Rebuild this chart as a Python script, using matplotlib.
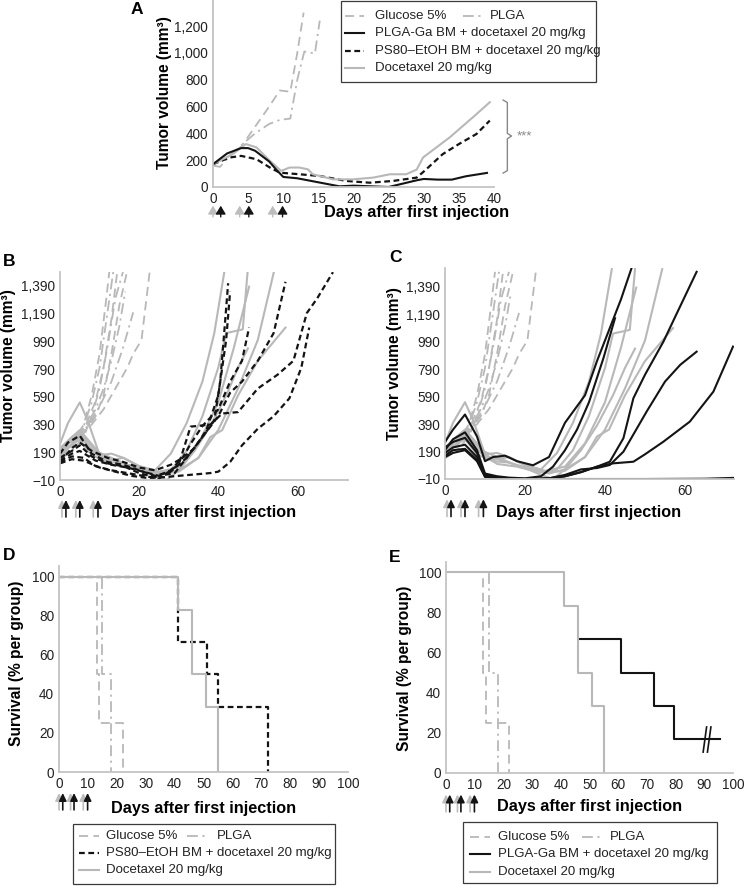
import matplotlib
matplotlib.use("Agg")
import matplotlib.pyplot as plt
from matplotlib.lines import Line2D
from matplotlib.patches import Rectangle

plt.rcParams["font.family"] = ["Liberation Sans", "DejaVu Sans"]

W, H = 745, 886
GREY = "#b8b8b8"
BLACK = "#141414"
AXGREY = "#c4c4c4"

# ---------------- panel A: group means ----------------
a_glu_day = [0, 2, 4, 6, 8, 9.5, 11, 12, 12.9]
a_glu = [170, 220, 300, 450, 600, 720, 710, 1000, 1300]
a_plga_day = [0, 1, 2, 4, 6, 8, 9.5, 11, 12, 13, 14.5, 15.2]
a_plga = [160, 150, 210, 310, 400, 470, 500, 510, 800, 1010, 995, 1240]
a_ga_day = [0, 2, 4, 5, 6, 8, 9, 10, 12, 15, 18, 20, 25, 27, 29, 30, 32, 34, 36, 39]
a_ga = [170, 250, 290, 290, 270, 190, 130, 75, 65, 35, 5, 10, 0, 25, 50, 60, 55, 55, 80, 105]
a_ps80_day = [0, 2.4, 4, 6.2, 8.1, 9.5, 12.3, 15.2, 19, 22.3, 25.6, 29, 30.1, 32.7, 35, 37.5, 39.4]
a_ps80 = [170, 220, 232, 207, 145, 107, 95, 82, 45, 32, 45, 70, 120, 245, 320, 395, 495]
a_doc_day = [0, 2.8, 4.7, 6.2, 8.1, 9.7, 10.9, 12.3, 13.5, 14.2, 17.1, 19.9, 22.8, 25.2,
             27.5, 29, 29.9, 33.7, 37, 39.4]
a_doc = [170, 245, 320, 295, 195, 120, 145, 145, 132, 95, 57, 57, 70, 95, 95, 130, 220,
         370, 520, 632]

# ---------------- panels B/C: individual animals ----------------
glucose_curves = [
    ([0, 3, 6, 8, 10, 11.5, 12.5], [170, 250, 390, 600, 900, 1250, 1500]),
    ([0, 3, 6, 9, 11, 13, 14.5], [150, 230, 350, 560, 800, 1150, 1500]),
    ([0, 3, 6, 9, 11, 13, 15, 17], [190, 270, 330, 450, 600, 900, 1250, 1500]),
    ([0, 3, 6, 8, 11, 14, 17, 18.5, 20.6, 22.7], [160, 240, 330, 390, 500, 650, 800, 900, 1000, 1500]),
]
plga_curves = [
    ([0, 3, 6, 8, 10, 12, 13.5], [180, 260, 380, 550, 800, 1200, 1500]),
    ([0, 3, 6, 8, 10, 12, 14, 16], [140, 200, 300, 450, 650, 950, 1300, 1500]),
    ([0, 4, 7, 9, 11, 13, 15, 16.5], [200, 300, 400, 500, 650, 850, 1100, 1350]),
    ([0, 4, 7, 10, 13, 16, 18.5], [170, 280, 380, 520, 700, 950, 1200]),
]
doc_curves = [
    ([0, 2, 5, 7, 10, 13, 16, 20, 24, 28, 32, 36, 39, 41.7],
     [250, 400, 550, 420, 170, 180, 150, 90, 60, 180, 400, 700, 1050, 1520]),
    ([0, 3, 5, 8, 11, 15, 20, 24, 28, 32, 36, 40, 42, 46.2, 47.5],
     [200, 300, 350, 250, 150, 120, 70, 40, 60, 200, 450, 800, 1050, 1077, 1520]),
    ([0, 3, 5, 8, 12, 16, 20, 25, 30, 35, 40, 44, 47.8],
     [180, 280, 320, 200, 130, 150, 90, 50, 80, 250, 550, 950, 1385]),
    ([0, 3, 5, 9, 13, 18, 22, 26, 30, 35, 40, 45, 50, 54.3],
     [150, 250, 300, 180, 100, 80, 50, 30, 60, 150, 350, 650, 1000, 1520]),
    ([0, 3, 5, 9, 13, 17, 22, 26, 30, 35, 38, 41, 45, 50, 57],
     [220, 300, 330, 200, 150, 100, 60, 40, 50, 150, 300, 350, 600, 850, 1090]),
    ([0, 2, 5, 8, 12, 16, 20, 24, 27, 30, 34, 38, 42, 45, 47.5],
     [170, 230, 280, 170, 120, 110, 70, 20, -10, 60, 200, 380, 600, 800, 940]),
]
ps80_curves = [
    ([0, 2, 5, 8, 12, 16, 20, 24, 28, 32, 36, 39, 40.5, 41.5, 42.5],
     [180, 260, 310, 180, 120, 100, 60, 20, 50, 150, 300, 420, 700, 1050, 1410]),
    ([0, 3, 5, 8, 12, 16, 20, 24, 28, 31, 34, 37, 40, 42, 43],
     [120, 220, 260, 200, 150, 120, 80, 60, 100, 150, 220, 350, 600, 1000, 1350]),
    ([0, 3, 5, 8, 12, 16, 20, 24, 28, 31, 33, 36, 40, 43, 46, 47.8],
     [150, 200, 240, 160, 110, 90, 40, 10, 60, 150, 250, 380, 500, 700, 850, 1090]),
    ([0, 3, 5, 9, 13, 17, 21, 25, 29, 32, 36, 40, 43, 46, 50, 54, 57],
     [130, 180, 200, 130, 100, 80, 50, 20, 40, 150, 300, 450, 620, 700, 850, 1050, 1420]),
    ([0, 3, 6, 9, 13, 17, 21, 25, 30, 33, 38, 41, 45, 50, 55, 59, 62.4, 65, 69],
     [120, 160, 150, 90, 60, 40, 20, 0, 100, 375, 390, 470, 480, 650, 750, 850, 1195, 1300, 1490]),
    ([0, 3, 6, 10, 14, 18, 22, 26, 30, 34, 38, 40, 43, 46, 50, 54, 58, 61, 63],
     [110, 140, 130, 80, 50, 20, 5, 10, 20, 30, 40, 50, 120, 240, 360, 450, 580, 800, 1090]),
]
ga_curves = [
    ([0, 2, 5, 8, 10, 12, 15, 18, 22, 26, 30, 35, 38, 42, 44, 46.9],
     [260, 350, 460, 300, 120, 150, 160, 120, 90, 150, 400, 600, 850, 1150, 1300, 1550]),
    ([0, 2, 5, 8, 10, 13, 16, 20, 24, 27, 30, 33, 36, 39.6, 42.5],
     [200, 280, 330, 200, 30, 10, 0, -5, 10, 80, 200, 350, 550, 870, 1162]),
    ([0, 2, 5, 8, 10, 14, 18, 22, 26, 30, 34, 38, 41.2, 44.6, 47.1, 50, 54.6, 58, 62.9],
     [220, 260, 290, 180, 20, 0, -10, -10, -5, 10, 40, 80, 116, 287, 579, 750, 991, 1200, 1500]),
    ([0, 2, 5, 8, 10, 14, 18, 22, 26, 30, 34, 38, 41.2, 44.6, 50.4, 55, 58.8, 62.9],
     [180, 220, 240, 150, 10, -5, -10, -10, -5, 20, 60, 70, 92, 189, 481, 700, 822, 918]),
    ([0, 2, 5, 8, 10, 14, 18, 22, 26, 30, 34, 38, 42, 47.1, 50, 54.6, 61.2, 67.1, 72],
     [160, 200, 210, 130, 10, -5, -10, -10, -5, 10, 40, 80, 104, 116, 170, 262, 408, 627, 955]),
    ([0, 2, 5, 8, 10, 14, 18, 25, 35, 50, 65, 72],
     [150, 180, 200, 120, 5, -5, -10, -10, -10, -10, -8, -2]),
]

# ---------------- panels D/E: survival ----------------
surv_glu_day = [0, 13, 13.8, 22]
surv_glu = [100, 50, 25, 0]
surv_plga_day = [0, 15, 18]
surv_plga = [100, 50, 0]
surv_doc_day = [0, 41.2, 46, 51, 55]
surv_doc = [100, 83.3, 50, 33.3, 0]
surv_ps80_day = [0, 41.2, 51.2, 55, 72.3]
surv_ps80 = [100, 66.7, 50, 33.3, 0]
surv_ga_day = [46.2, 61.1, 72.4, 79.4, 95.4]
surv_ga = [66.7, 50, 33.3, 16.7, 16.7]

# injection days (grey arrow / black arrow)
inj_grey = [0, 4, 8.4]
inj_black = [1.3, 5.2, 9.9]

vol_ticks_bc = [-10, 190, 390, 590, 790, 990, 1190, 1390]
vol_labels_bc = ["\u221210", "190", "390", "590", "790", "990", "1,190", "1,390"]
vol_ticks_a = [0, 200, 400, 600, 800, 1000, 1200]
vol_labels_a = ["0", "200", "400", "600", "800", "1,000", "1,200"]

LEGEND_LABELS = {
    "glu": "Glucose 5%",
    "plga": "PLGA",
    "ga": "PLGA-Ga BM + docetaxel 20 mg/kg",
    "ps80": "PS80\u2013EtOH BM + docetaxel 20 mg/kg",
    "doc": "Docetaxel 20 mg/kg",
}

STY = {
    "glu": dict(color=GREY, ls=(0, (5, 3)), lw=1.3),
    "plga": dict(color=GREY, ls=(0, (6, 2.5, 1.2, 2.5)), lw=1.3),
    "ga": dict(color=BLACK, ls="-", lw=1.5),
    "ps80": dict(color=BLACK, ls=(0, (2.6, 1.6)), lw=1.6),
    "doc": dict(color=GREY, ls="-", lw=1.5),
}


def fx(px):
    return px / W


def fy(py):
    return 1 - py / H


def add_ax(x0, y0, x1, y1):
    # pixel box (top-left origin) -> figure axes
    return fig.add_axes([fx(x0), fy(y1), fx(x1) - fx(x0), fy(y0) - fy(y1)])


def style_ax(ax, xlim, ylim, xticks, yticks, ylabels=None):
    ax.set_xlim(*xlim)
    ax.set_ylim(*ylim)
    ax.set_xticks(xticks)
    ax.set_yticks(yticks)
    if ylabels is not None:
        ax.set_yticklabels(ylabels)
    for s in ["top", "right"]:
        ax.spines[s].set_visible(False)
    for s in ["left", "bottom"]:
        ax.spines[s].set_color(AXGREY)
        ax.spines[s].set_linewidth(1.3)
    ax.tick_params(length=0, pad=3.5, labelsize=9.8, colors="#222222")


def arrows(ax, ytop, ybot, grey_days, black_days, lw=1.2, hl=0.45, hw=0.22):
    for days, col in [(grey_days, "#bdbdbd"), (black_days, BLACK)]:
        for d in days:
            ax.annotate("", xy=(d, ytop), xytext=(d, ybot),
                        xycoords=("data", "axes fraction"),
                        textcoords=("data", "axes fraction"),
                        annotation_clip=False,
                        arrowprops=dict(arrowstyle="-|>,head_length=%s,head_width=%s" % (hl, hw),
                                        color=col, lw=lw, shrinkA=0, shrinkB=0))


def legend_box(box, rows, fs=9.5):
    x0, y0, x1, y1 = box
    fig.add_artist(Rectangle((fx(x0), fy(y1)), fx(x1) - fx(x0), fy(y0) - fy(y1),
                             transform=fig.transFigure, fill=False,
                             edgecolor="#3a3a3a", lw=0.9))
    for y, items in rows:
        for hx0, hx1, tx, key in items:
            st = dict(STY[key])
            fig.add_artist(Line2D([fx(hx0), fx(hx1)], [fy(y), fy(y)],
                                  transform=fig.transFigure, **st))
            fig.text(fx(tx), fy(y), LEGEND_LABELS[key], fontsize=fs,
                     ha="left", va="center", color="#222222")


def labels(xl_pos, yl_pos, ylab, letter_pos, letter):
    fig.text(fx(xl_pos[0]), fy(xl_pos[1]), "Days after first injection",
             fontsize=11.7, fontweight="bold", ha="center", va="center")
    fig.text(fx(yl_pos[0]), fy(yl_pos[1]), ylab, fontsize=11.2,
             fontweight="bold", rotation=90, ha="center", va="center")
    fig.text(fx(letter_pos[0]), fy(letter_pos[1]), letter, fontsize=12.5,
             fontweight="bold", ha="center", va="center")


fig = plt.figure(figsize=(W / 100, H / 100), dpi=100)

# ---- A ----
axA = add_ax(213, 0, 494, 187)
style_ax(axA, (0, 40), (0, 1394), list(range(0, 41, 5)), vol_ticks_a, vol_labels_a)
axA.plot(a_glu_day, a_glu, **STY["glu"])
axA.plot(a_plga_day, a_plga, **STY["plga"])
axA.plot(a_ps80_day, a_ps80, **STY["ps80"])
axA.plot(a_doc_day, a_doc, **STY["doc"])
axA.plot(a_ga_day, a_ga, **STY["ga"])
# significance bracket
axA.plot([41.3, 41.9, 41.9, 42.5, 41.9, 41.9, 41.3],
         [648, 630, 400, 380, 360, 122, 104], color="#888888", lw=1.0, clip_on=False)
axA.text(43.3, 380, "***", fontsize=9.5, color="#888888", va="center", ha="left")
arrows(axA, -0.10, -0.16, [0, 3.8, 8.5], [1.1, 5.1, 9.9], lw=1.0, hl=0.5, hw=0.3)
labels((417, 213), (165, 93), "Tumor volume (mm\u00b3)", (137, 9), "A")
legend_box((341, 1, 596, 82),
           [(16, [(345, 364, 375, "glu"), (463, 481, 490, "plga")]),
            (33, [(345, 364, 375, "ga")]),
            (51, [(345, 364, 375, "ps80")]),
            (68, [(345, 364, 375, "doc")])])

# ---- B ----
axB = add_ax(60, 272, 348, 480)
style_ax(axB, (0, 72.8), (-10, 1491), [0, 20, 40, 60], vol_ticks_bc, vol_labels_bc)
for d, v in glucose_curves:
    axB.plot(d, v, **STY["glu"])
for d, v in plga_curves:
    axB.plot(d, v, **STY["plga"])
for d, v in doc_curves:
    axB.plot(d, v, **STY["doc"])
for d, v in ps80_curves:
    axB.plot(d, v, **STY["ps80"])
arrows(axB, -0.096, -0.178, [0.5, 4, 8.4], [1.5, 5, 9.6])
labels((204, 513), (9, 366), "Tumor volume (mm\u00b3)", (9, 262), "B")

# ---- C ----
axC = add_ax(445, 268, 734, 479)
style_ax(axC, (0, 72.25), (-10, 1528), [0, 20, 40, 60], vol_ticks_bc, vol_labels_bc)
for d, v in glucose_curves:
    axC.plot(d, v, **STY["glu"])
for d, v in plga_curves:
    axC.plot(d, v, **STY["plga"])
for d, v in doc_curves:
    axC.plot(d, v, **STY["doc"])
for d, v in ga_curves:
    axC.plot(d, v, **STY["ga"])
arrows(axC, -0.096, -0.178, [0.5, 4, 8.4], [1.5, 5, 9.6])
labels((589, 512), (394, 364), "Tumor volume (mm\u00b3)", (395, 258), "C")

# ---- D ----
axD = add_ax(59, 566, 348, 772)
style_ax(axD, (0, 100), (0, 105.6), list(range(0, 101, 10)), [0, 20, 40, 60, 80, 100])
axD.step(surv_glu_day, surv_glu, where="post", **STY["glu"])
axD.step(surv_plga_day, surv_plga, where="post", **STY["plga"])
axD.step(surv_ps80_day, surv_ps80, where="post", **STY["ps80"])
axD.step(surv_doc_day, surv_doc, where="post", **STY["doc"])
arrows(axD, -0.102, -0.184, inj_grey, inj_black)
labels((204, 809), (17, 663), "Survival (% per group)", (9, 556), "D")
legend_box((73, 824, 335, 884),
           [(836, [(79, 99, 106, "glu"), (187, 207, 217, "plga")]),
            (853, [(79, 99, 106, "ps80")]),
            (870, [(79, 99, 106, "doc")])])

# ---- E ----
axE = add_ax(446, 562, 733, 773)
style_ax(axE, (0, 100), (0, 105), list(range(0, 101, 10)), [0, 20, 40, 60, 80, 100])
axE.step(surv_glu_day, surv_glu, where="post", **STY["glu"])
axE.step(surv_plga_day, surv_plga, where="post", **STY["plga"])
axE.step(surv_ga_day, surv_ga, where="post", **STY["ga"])
axE.step(surv_doc_day, surv_doc, where="post", **STY["doc"])
# axis-break mark on the surviving animal line
for xb in [90.2, 91.7]:
    axE.plot([xb - 0.6, xb + 0.6], [10.4, 22.9], color=BLACK, lw=1.2)
arrows(axE, -0.102, -0.184, inj_grey, inj_black)
labels((590, 806), (405, 668), "Survival (% per group)", (395, 557), "E")
legend_box((463, 822, 717, 883),
           [(837, [(470, 490, 498, "glu"), (582, 600, 610, "plga")]),
            (854, [(470, 490, 498, "ga")]),
            (872, [(470, 490, 498, "doc")])])

fig.savefig("out.png", dpi=100)
